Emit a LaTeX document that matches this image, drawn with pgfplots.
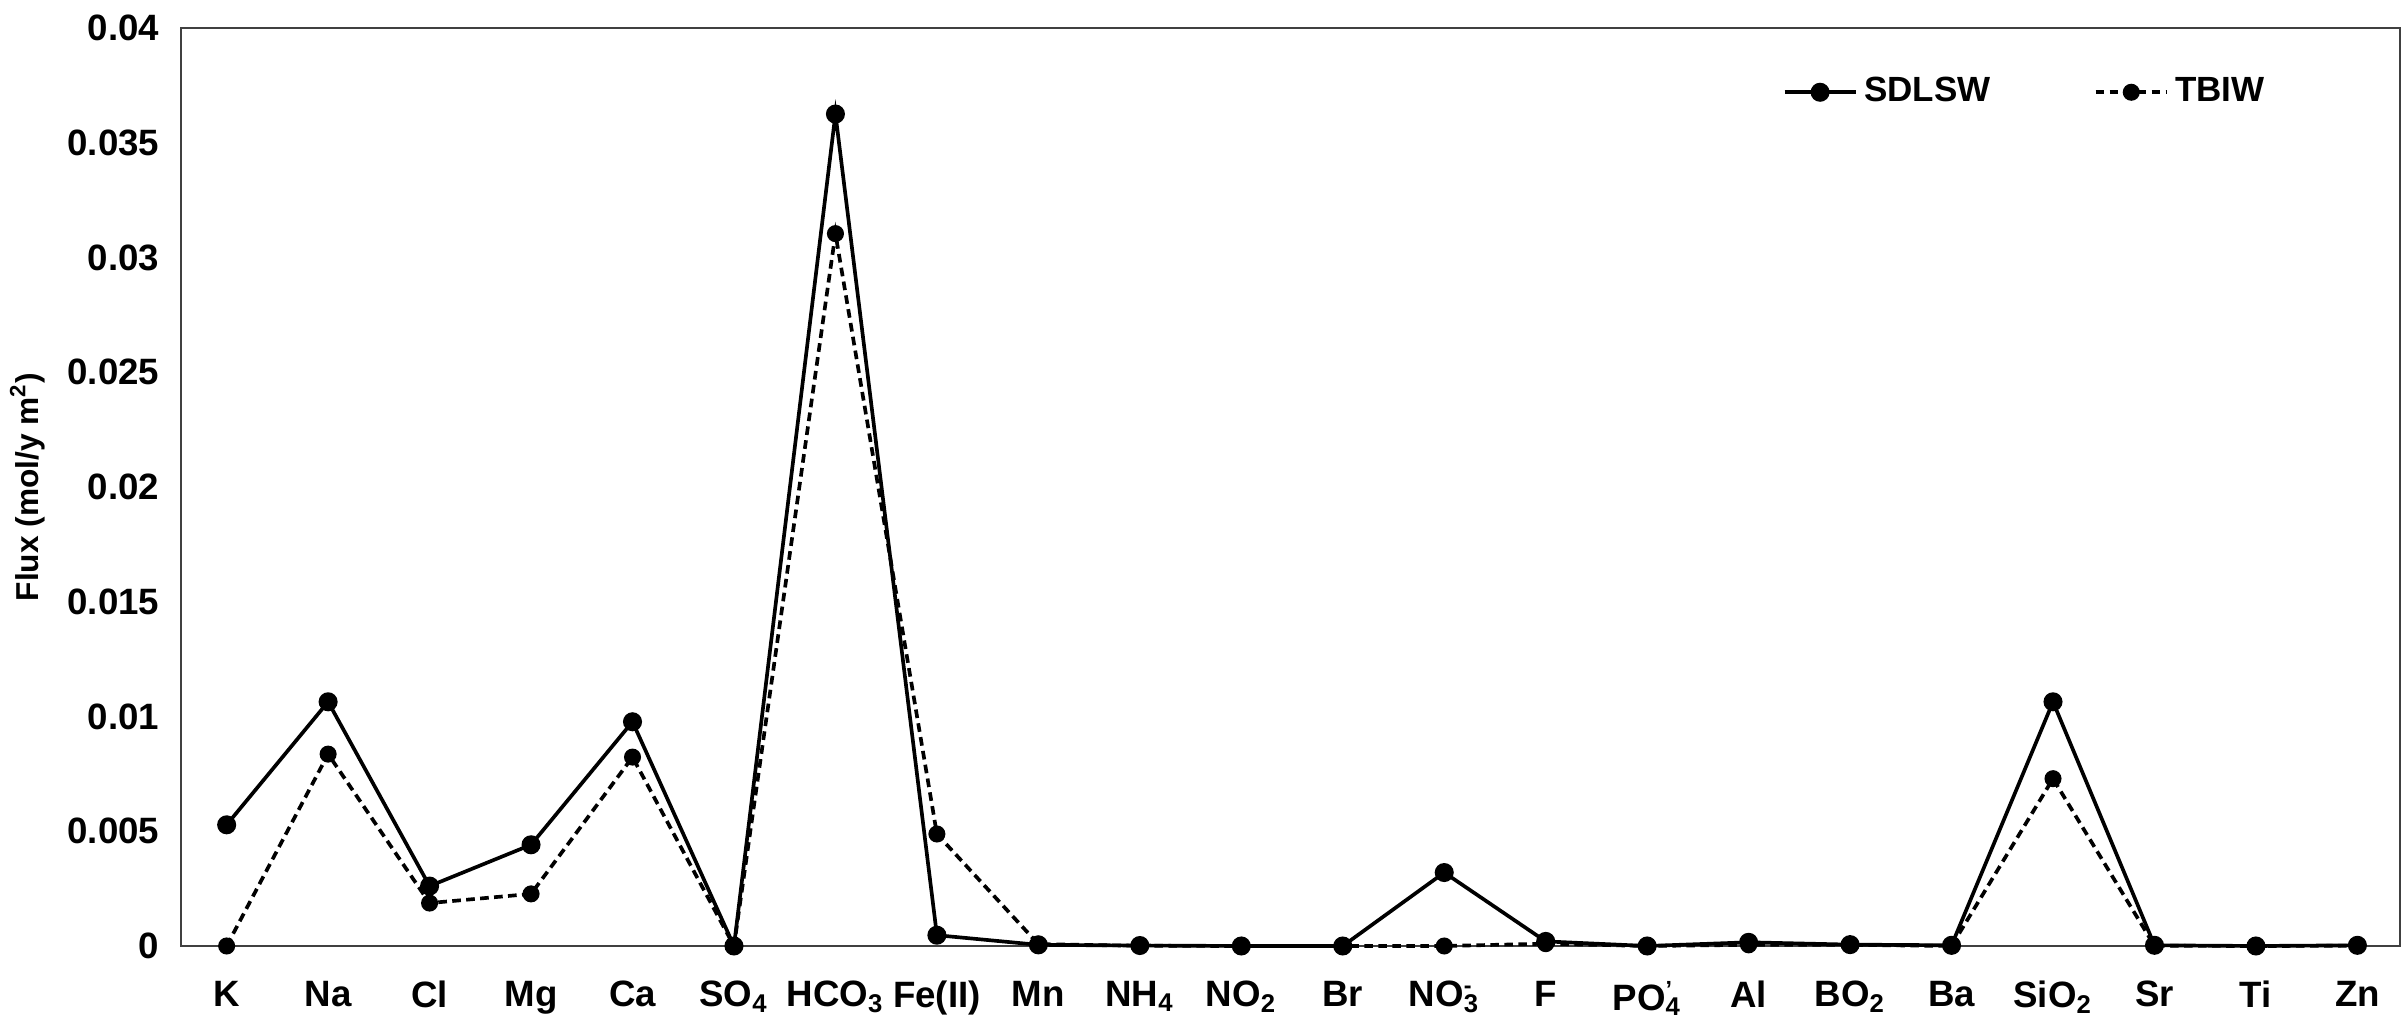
\documentclass[border=0pt]{standalone}
\usepackage{pgfplots}
\pgfplotsset{compat=1.18}
\usepackage{fontspec}
\setmainfont{Liberation Sans}
\usetikzlibrary{calc}

% Solute fluxes across the sediment-water interface
\pgfplotstableread{
x  sdlsw    tbiw
0  0.00528  0.0
1  0.01064  0.00836
2  0.00261  0.00187
3  0.00441  0.00227
4  0.00977  0.00823
5  0.0      0.0
6  0.03625  0.03104
7  0.00047  0.00488
8  0.00005  0.00008
9  0.00002  0.00001
10 0.0      0.0
11 0.0      0.0
12 0.00320  0.0
13 0.00020  0.00010
14 0.0      0.0
15 0.00016  0.00005
16 0.00006  0.00005
17 0.00003  0.0
18 0.01064  0.00729
19 0.00003  0.00001
20 0.0      0.0
21 0.00003  0.00001
}\fluxdata

\newcommand{\sub}[1]{\textsubscript{#1}}
\newcommand{\ion}[3]{#1\rlap{\textsuperscript{\scriptsize #3}}\textsubscript{#2}}

\begin{document}
\begin{tikzpicture}
\begin{axis}[
  scale only axis,
  width=665.7pt, height=275.4pt,
  xmin=-0.45, xmax=21.42,
  ymin=0, ymax=0.04,
  xtick={0,...,21},
  xticklabels={K,Na,Cl,Mg,Ca,SO\sub{4},HCO\sub{3},Fe(II),Mn,NH\sub{4},NO\sub{2},Br,\ion{NO}{3}{-},F,\ion{PO}{4}{'},Al,BO\sub{2},Ba,SiO\sub{2},Sr,Ti,Zn},
  ytick={0,0.005,...,0.0401},
  scaled y ticks=false,
  major tick length=0pt,
  axis line style={draw=black!75, line width=0.7pt},
  tick label style={font=\fontsize{11}{13}\selectfont\bfseries},
  xticklabel style={yshift=-7pt, anchor=north},
  yticklabel style={xshift=-3pt},
  /pgf/number format/.cd, fixed, precision=3, assume math mode=true,
  /pgfplots/.cd,
  ylabel={Flux (mol/y m\textsuperscript{2})},
  ylabel style={font=\fontsize{9.5}{11}\selectfont\bfseries, yshift=0pt},
  legend columns=2,
  legend style={draw=none, fill=none, at={(rel axis cs:0.717,0.93)}, anchor=west,
    font=\fontsize{10.5}{12}\selectfont\bfseries,
    /tikz/every even column/.append style={column sep=29pt}},
  legend image code/.code={
    \draw[#1] (0cm,0cm) -- (0.75cm,0cm);
    \draw[#1,mark repeat=1] plot coordinates {(0.375cm,0cm)};
  },
  clip=false,
]
\coordinate (bl) at (rel axis cs:0,0);
\coordinate (tr) at (rel axis cs:1,1);
\addplot[black, line width=1.1pt, mark=*, mark size=2.3pt]
  table[x=x, y=sdlsw] {\fluxdata};
\addlegendentry{SDLSW}
\addplot[black, line width=1.1pt, dash pattern=on 2.6pt off 1.6pt, mark=*, mark size=2.0pt, mark options={solid}]
  table[x=x, y=tbiw] {\fluxdata};
\addlegendentry{TBIW}
\end{axis}
\pgfresetboundingbox
\path[use as bounding box] ($(bl)+(-54.3pt,-23.1pt)$) rectangle ($(tr)+(2.4pt,8.4pt)$);
\end{tikzpicture}
\end{document}
